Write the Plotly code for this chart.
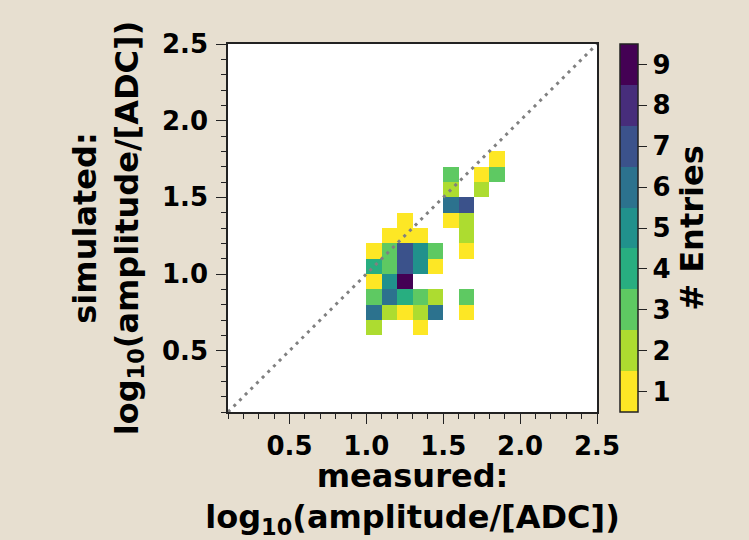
import plotly.graph_objects as go

# 2D histogram contents: bin lower edges (log10 amplitude) and entry counts
bin_width = 0.1
meas_bins = [1.8,
             1.5, 1.7, 1.8,
             1.5, 1.7,
             1.5, 1.6,
             1.2, 1.5, 1.6,
             1.1, 1.2, 1.3, 1.6,
             1.0, 1.1, 1.2, 1.3, 1.4, 1.6,
             1.0, 1.1, 1.2, 1.3, 1.4,
             1.0, 1.1, 1.2,
             1.0, 1.1, 1.2, 1.3, 1.4, 1.6,
             1.0, 1.1, 1.2, 1.3, 1.4, 1.6,
             1.0, 1.3]
sim_bins = [1.7,
            1.6, 1.6, 1.6,
            1.5, 1.5,
            1.4, 1.4,
            1.3, 1.3, 1.3,
            1.2, 1.2, 1.2, 1.2,
            1.1, 1.1, 1.1, 1.1, 1.1, 1.1,
            1.0, 1.0, 1.0, 1.0, 1.0,
            0.9, 0.9, 0.9,
            0.8, 0.8, 0.8, 0.8, 0.8, 0.8,
            0.7, 0.7, 0.7, 0.7, 0.7, 0.7,
            0.6, 0.6]
entries = [1,
           3, 1, 3,
           2, 2,
           6, 7,
           1, 1, 2,
           1, 1, 1, 2,
           1, 3, 7, 5, 3, 1,
           4, 3, 7, 5, 1,
           1, 5, 9,
           3, 6, 4, 3, 2, 3,
           6, 2, 1, 2, 6, 1,
           2, 1]

axis_range = [0.1, 2.5]
tick_vals = [0.5, 1.0, 1.5, 2.0, 2.5]
tick_text = ["0.5", "1.0", "1.5", "2.0", "2.5"]
cbar_ticks = list(range(1, 10))

# regular grid covering the axis range
x_lo, x_hi = 0.1, 2.5
nbin = int(round((x_hi - x_lo) / bin_width))
centers = [round(x_lo + (i + 0.5) * bin_width, 3) for i in range(nbin)]
z = [[None] * nbin for _ in range(nbin)]
for mx, sy, n in zip(meas_bins, sim_bins, entries):
    ix = int(round((mx - x_lo) / bin_width))
    iy = int(round((sy - x_lo) / bin_width))
    z[iy][ix] = n

# discrete reversed viridis, one band per count
viridis9 = ["#440154", "#472d7b", "#3b528b", "#2c728e", "#21918c",
            "#28ae80", "#5ec962", "#addc30", "#fde725"][::-1]
cscale = []
for i, c in enumerate(viridis9):
    cscale.append([i / 9, c])
    cscale.append([(i + 1) / 9, c])

FAM = "DejaVu Sans"
tick_font = dict(family=FAM, size=26, color="black", weight="bold")
title_font = dict(family=FAM, size=32, color="black", weight="bold")

fig = go.Figure()
fig.add_trace(go.Heatmap(
    x=centers, y=centers, z=z,
    colorscale=cscale, zmin=0.5, zmax=9.5,
    hoverongaps=False,
    colorbar=dict(
        title=dict(text="# Entries", side="right", font=title_font),
        tickvals=cbar_ticks, ticktext=[str(t) for t in cbar_ticks],
        tickfont=tick_font,
        ticks="outside", ticklen=9, tickcolor="#222", tickwidth=1.3,
        thickness=18, len=1.0, lenmode="fraction", y=0.5, yanchor="middle",
        x=1.0, xpad=23, ypad=0, xanchor="left",
        outlinewidth=1.5, outlinecolor="#222",
    ),
))
# identity diagonal
fig.add_trace(go.Scatter(
    x=axis_range, y=axis_range, mode="lines",
    line=dict(color="#808080", width=3, dash="3px,5px"),
    showlegend=False, hoverinfo="skip",
))

axis_common = dict(
    range=axis_range, tickvals=tick_vals, ticktext=tick_text,
    ticks="outside", ticklen=10, tickwidth=1.3, tickcolor="#222",
    minor=dict(dtick=0.1, tick0=0.0, ticks="outside", ticklen=5,
               tickwidth=1, tickcolor="#222"),
    showline=True, linecolor="#222", linewidth=1.5, mirror=True,
    showgrid=False, zeroline=False, automargin=False,
    tickfont=tick_font,
)

fig.update_layout(
    width=749, height=540,
    margin=dict(l=228, r=152, t=44, b=128),
    paper_bgcolor="#e7dfd0", plot_bgcolor="white",
    font=dict(family=FAM, color="black"),
    showlegend=False,
    xaxis=dict(**axis_common,
               title=dict(text="measured:<br>log<sub>10</sub>(amplitude/[ADC])",
                          font=title_font, standoff=10)),
    yaxis=dict(**axis_common, ticklabelstandoff=3,
               title=dict(text="simulated:<br>log<sub>10</sub>(amplitude/[ADC])",
                          font=title_font, standoff=14)),
)

fig.write_html("out.html")
